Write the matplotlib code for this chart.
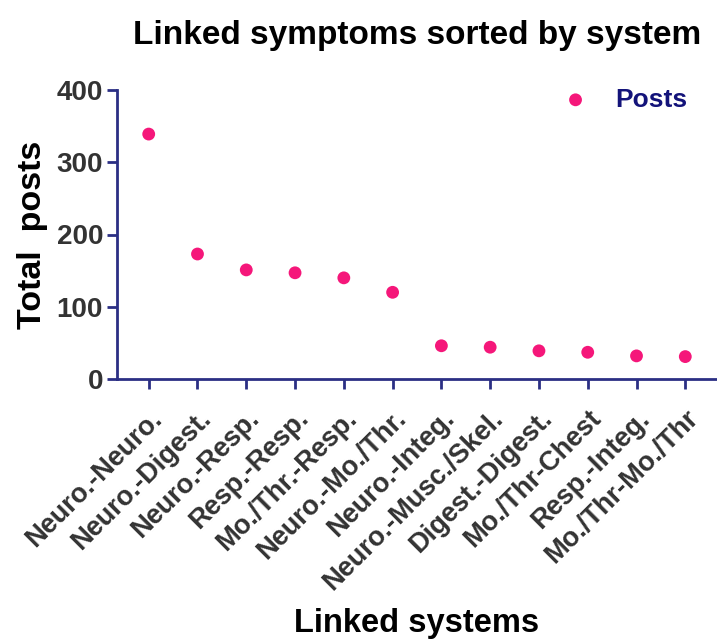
"""
Linked symptoms sorted by system – dot chart of total posts per linked pair.
"""

import matplotlib
matplotlib.use("Agg")
import matplotlib.pyplot as plt

# ──────────────────────────────────────────────
# Data
# ──────────────────────────────────────────────
categories = [
    "Neuro.-Neuro.", "Neuro.-Digest.", "Neuro.-Resp.", "Resp.-Resp.",
    "Mo./Thr.-Resp.", "Neuro.-Mo./Thr.", "Neuro.-Integ.", "Neuro.-Musc./Skel.",
    "Digest.-Digest.", "Mo./Thr-Chest", "Resp.-Integ.", "Mo./Thr-Mo./Thr",
]
posts = [339, 173, 151, 147, 140, 120, 46, 44, 39, 37, 32, 31]
y_ticks = [0, 100, 200, 300, 400]

# ──────────────────────────────────────────────
# Style
# ──────────────────────────────────────────────
AXIS_COLOR = "#2B2F84"
DOT_COLOR = "#F5177A"
TEXT_COLOR = "#333333"
LEGEND_COLOR = "#13137A"

plt.rcParams["font.family"] = ["Liberation Sans", "DejaVu Sans"]
plt.rcParams["font.weight"] = "bold"

fig = plt.figure(figsize=(7.17, 6.41), dpi=100)
ax = fig.add_axes([117 / 717, 1 - 379 / 641, 600 / 717, 289 / 641])

x = range(len(categories))
ax.scatter(x, posts, s=85, color=DOT_COLOR, edgecolors="none", zorder=3, label="Posts")

ax.set_xlim(-0.65, len(categories) - 0.35)
ax.set_ylim(0, 400)
ax.set_yticks(y_ticks)
ax.set_xticks(list(x))
ax.set_xticklabels(categories, rotation=45, ha="right", rotation_mode="anchor",
                   fontsize=19.5, fontweight="bold", color=TEXT_COLOR)
ax.set_yticklabels([str(v) for v in y_ticks], fontsize=20, fontweight="bold",
                   color=TEXT_COLOR)

for side in ("top", "right"):
    ax.spines[side].set_visible(False)
for side in ("left", "bottom"):
    ax.spines[side].set_color(AXIS_COLOR)
    ax.spines[side].set_linewidth(2)
ax.tick_params(axis="both", direction="out", length=7, width=2, color=AXIS_COLOR, pad=3)
ax.tick_params(axis="x", pad=12)

ax.set_title("Linked symptoms sorted by system", fontsize=24, fontweight="bold",
             pad=33, color="black")
ax.set_ylabel("Total  posts", fontsize=24.5, fontweight="bold", color="black", labelpad=6)
ax.set_xlabel("Linked systems", fontsize=23.5, fontweight="bold", color="black", labelpad=9)

leg = ax.legend(loc="upper right", bbox_to_anchor=(0.99, 1.09), frameon=False,
                fontsize=19, handletextpad=0.5, markerscale=1.0)
for t in leg.get_texts():
    t.set_color(LEGEND_COLOR)
    t.set_fontweight("bold")

fig.savefig("out.png", dpi=100)
